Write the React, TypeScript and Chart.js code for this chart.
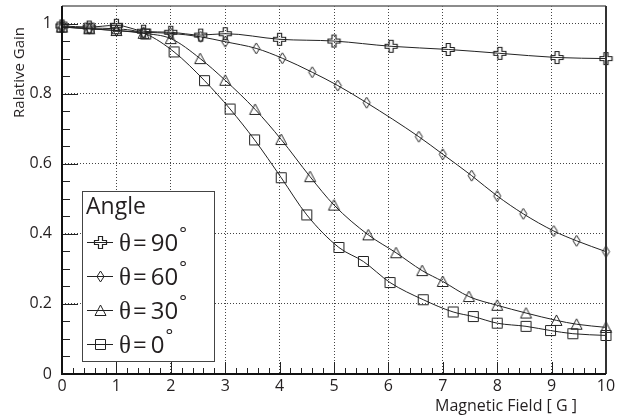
import { useEffect, useRef } from 'react';
import { Chart, registerables } from 'chart.js';

Chart.register(...registerables);

// ---- data (Magnetic Field [G] vs Relative Gain) ----
const field90 = [0, 0.5, 1.0, 1.5, 2.0, 2.55, 3.0, 4.0, 5.0, 6.05, 7.1, 8.05, 9.1, 10];
const gain90 = [0.993, 0.99, 0.995, 0.978, 0.975, 0.967, 0.971, 0.955, 0.95, 0.935, 0.926, 0.915, 0.903, 0.9];

const field60 = [0, 0.5, 1.0, 1.5, 2.0, 2.55, 3.0, 3.57, 4.05, 4.6, 5.07, 5.6, 6.56, 7.0, 7.53, 8.0, 8.48, 9.04, 9.46, 10];
const gain60 = [0.99, 0.985, 0.98, 0.975, 0.972, 0.962, 0.948, 0.929, 0.901, 0.861, 0.823, 0.774, 0.677, 0.627, 0.566, 0.508, 0.457, 0.408, 0.38, 0.349];

const field30 = [0, 0.5, 1.0, 1.5, 2.0, 2.54, 3.0, 3.55, 4.03, 4.56, 5.0, 5.63, 6.14, 6.62, 7.0, 7.48, 8.0, 8.53, 9.09, 9.46, 10];
const gain30 = [0.99, 0.985, 0.98, 0.972, 0.957, 0.9, 0.838, 0.755, 0.669, 0.563, 0.482, 0.397, 0.346, 0.295, 0.264, 0.221, 0.196, 0.174, 0.153, 0.142, 0.133];

const field0 = [0, 0.5, 1.0, 1.54, 2.06, 2.62, 3.09, 3.54, 4.03, 4.5, 5.09, 5.54, 6.03, 6.64, 7.19, 7.56, 8.0, 8.53, 8.98, 9.39, 10];
const gain0 = [0.99, 0.987, 0.985, 0.97, 0.919, 0.837, 0.756, 0.668, 0.56, 0.454, 0.361, 0.321, 0.261, 0.212, 0.177, 0.164, 0.145, 0.136, 0.124, 0.115, 0.11];

const seriesLabels = ['θ = 90°', 'θ = 60°', 'θ = 30°', 'θ = 0°'];
const legendTitle = 'Angle';
const xTitle = 'Magnetic Field [ G ]';
const yTitle = 'Ralative Gain';

const FONT = '"Open Sans", "DejaVu Sans", sans-serif';
const SERIF = '"Liberation Serif", "DejaVu Serif", serif';
const INK = '#231f20';

function makeMarker(kind: string): HTMLCanvasElement {
  const c = document.createElement('canvas');
  c.width = 15;
  c.height = 15;
  const g = c.getContext('2d')!;
  g.strokeStyle = '#222';
  g.lineWidth = 1;
  g.translate(7.5, 7.5);
  g.beginPath();
  if (kind === 'cross') {
    const a = 2, b = 6;
    const pts = [[-a, -b], [a, -b], [a, -a], [b, -a], [b, a], [a, a], [a, b], [-a, b], [-a, a], [-b, a], [-b, -a], [-a, -a]];
    pts.forEach((p, i) => (i ? g.lineTo(p[0], p[1]) : g.moveTo(p[0], p[1])));
    g.closePath();
    g.lineWidth = 1.2;
  } else if (kind === 'diamond') {
    g.moveTo(0, -5.5);
    g.lineTo(3.5, 0);
    g.lineTo(0, 5.5);
    g.lineTo(-3.5, 0);
    g.closePath();
  } else if (kind === 'triangle') {
    g.moveTo(0, -5.5);
    g.lineTo(5.5, 5);
    g.lineTo(-5.5, 5);
    g.closePath();
  } else {
    g.rect(-5, -5, 10, 10);
  }
  g.stroke();
  return c;
}

function toPoints(xs: number[], ys: number[]) {
  return xs.map((x, i) => ({ x, y: ys[i] }));
}

const decorPlugin = {
  id: 'rootDecor',
  afterDatasetsDraw(chart: any) {
    const { ctx, chartArea } = chart;
    const { left, right, top, bottom } = chartArea;
    const xs = chart.scales.x;
    const ys = chart.scales.y;
    ctx.save();
    // inner ticks
    ctx.strokeStyle = '#222';
    ctx.lineWidth = 1;
    ctx.beginPath();
    for (let i = 0; i <= 50; i++) {
      const px = Math.round(xs.getPixelForValue(i * 0.2)) + 0.5;
      const len = i % 5 === 0 ? 12 : 6;
      ctx.moveTo(px, bottom);
      ctx.lineTo(px, bottom - len);
    }
    for (let i = 0; i <= 20; i++) {
      const py = Math.round(ys.getPixelForValue(i * 0.05)) + 0.5;
      const len = i % 4 === 0 ? 16 : 8;
      ctx.moveTo(left, py);
      ctx.lineTo(left + len, py);
    }
    ctx.stroke();
    // frame
    ctx.strokeStyle = '#666';
    ctx.lineWidth = 1.5;
    ctx.beginPath();
    ctx.moveTo(left, top);
    ctx.lineTo(right, top);
    ctx.stroke();
    ctx.strokeStyle = '#333';
    ctx.lineWidth = 2;
    ctx.beginPath();
    ctx.moveTo(right, top);
    ctx.lineTo(right, bottom);
    ctx.stroke();
    ctx.strokeStyle = '#111';
    ctx.lineWidth = 2;
    ctx.beginPath();
    ctx.moveTo(left, top);
    ctx.lineTo(left, bottom);
    ctx.lineTo(right, bottom);
    ctx.stroke();
    ctx.restore();
  },
  afterDraw(chart: any) {
    const { ctx } = chart;
    ctx.save();
    // axis titles
    ctx.fillStyle = INK;
    ctx.font = `16px ${FONT}`;
    ctx.textAlign = 'right';
    ctx.textBaseline = 'alphabetic';
    ctx.fillText(xTitle, 577, 411);
    ctx.save();
    ctx.translate(24, 27);
    ctx.rotate(-Math.PI / 2);
    ctx.font = `15px ${FONT}`;
    ctx.textAlign = 'right';
    ctx.fillText(yTitle, 0, 0);
    ctx.restore();

    // legend box
    const bx = 82, by = 191, bw = 132, bh = 170;
    ctx.fillStyle = '#fff';
    ctx.fillRect(bx, by, bw, bh);
    ctx.strokeStyle = '#444';
    ctx.lineWidth = 1;
    ctx.strokeRect(bx + 0.5, by + 0.5, bw, bh);
    ctx.fillStyle = INK;
    ctx.textAlign = 'left';
    ctx.font = `23px ${FONT}`;
    ctx.fillText(legendTitle, 86, 214);
    const ds = chart.data.datasets;
    ds.forEach((d: any, i: number) => {
      const cy = 242 + i * 34;
      ctx.strokeStyle = '#222';
      ctx.lineWidth = 1;
      ctx.beginPath();
      ctx.moveTo(87, cy + 0.5);
      ctx.lineTo(113, cy + 0.5);
      ctx.stroke();
      const img = d.pointStyle as HTMLCanvasElement;
      ctx.drawImage(img, 100 - 7, cy - 7);
      const parts = String(d.label).split(' = ');
      const base = cy + 9;
      let x = 119;
      ctx.fillStyle = INK;
      ctx.font = `25px ${SERIF}`;
      ctx.fillText(parts[0], x, base);
      x += ctx.measureText(parts[0]).width + 2;
      ctx.font = `24px ${FONT}`;
      ctx.fillText('=', x, base);
      x += ctx.measureText('=').width + 4;
      const num = parts[1].replace('°', '');
      ctx.fillText(num, x, base);
      x += ctx.measureText(num).width + 1;
      ctx.font = `18px ${FONT}`;
      ctx.fillText('°', x, base - 11);
    });
    ctx.restore();
  },
};

export default function App() {
  const ref = useRef<HTMLCanvasElement | null>(null);
  useEffect(() => {
    if (!ref.current) return;
    const mk = (label: string, xs: number[], ys: number[], kind: string) => ({
      label,
      data: toPoints(xs, ys),
      borderColor: '#222',
      borderWidth: 1,
      backgroundColor: 'transparent',
      pointStyle: makeMarker(kind),
      pointRadius: 5,
      pointHoverRadius: 5,
      cubicInterpolationMode: 'monotone' as const,
      clip: false as any,
      fill: false,
    });
    const chart = new Chart(ref.current, {
      type: 'line',
      data: {
        datasets: [
          mk(seriesLabels[0], field90, gain90, 'cross'),
          mk(seriesLabels[1], field60, gain60, 'diamond'),
          mk(seriesLabels[2], field30, gain30, 'triangle'),
          mk(seriesLabels[3], field0, gain0, 'square'),
        ] as any,
      },
      options: {
        animation: false,
        responsive: false,
        events: [],
        layout: { padding: { left: 0, top: 6, right: 15, bottom: 0 } },
        plugins: { legend: { display: false }, tooltip: { enabled: false } },
        scales: {
          x: {
            type: 'linear',
            min: 0,
            max: 10,
            ticks: {
              stepSize: 1,
              font: { family: FONT, size: 16 },
              color: INK,
              padding: 3,
              maxRotation: 0,
              callback: (v: any) => String(v),
            },
            grid: { color: '#444', lineWidth: 1, drawTicks: false },
            border: { display: false, dash: [1, 2] },
            afterFit: (s: any) => {
              s.height = 43;
              s.paddingLeft = 0;
              s.paddingRight = 0;
            },
          },
          y: {
            type: 'linear',
            min: 0,
            max: 1.05,
            ticks: {
              stepSize: 0.2,
              includeBounds: false,
              font: { family: FONT, size: 16 },
              color: INK,
              padding: 10,
              callback: (v: any) => String(Math.round(Number(v) * 10) / 10),
            },
            grid: { color: '#444', lineWidth: 1, drawTicks: false },
            border: { display: false, dash: [1, 2] },
            afterFit: (s: any) => {
              s.width = 62;
              s.paddingTop = 0;
              s.paddingBottom = 0;
            },
          },
        },
      } as any,
      plugins: [decorPlugin],
    });
    return () => chart.destroy();
  }, []);
  return (
    <div style={{ position: 'fixed', left: 0, top: 0, width: 621, height: 417, background: '#fff' }}>
      <canvas ref={ref} width={621} height={417} style={{ display: 'block', width: 621, height: 417 }} />
    </div>
  );
}
